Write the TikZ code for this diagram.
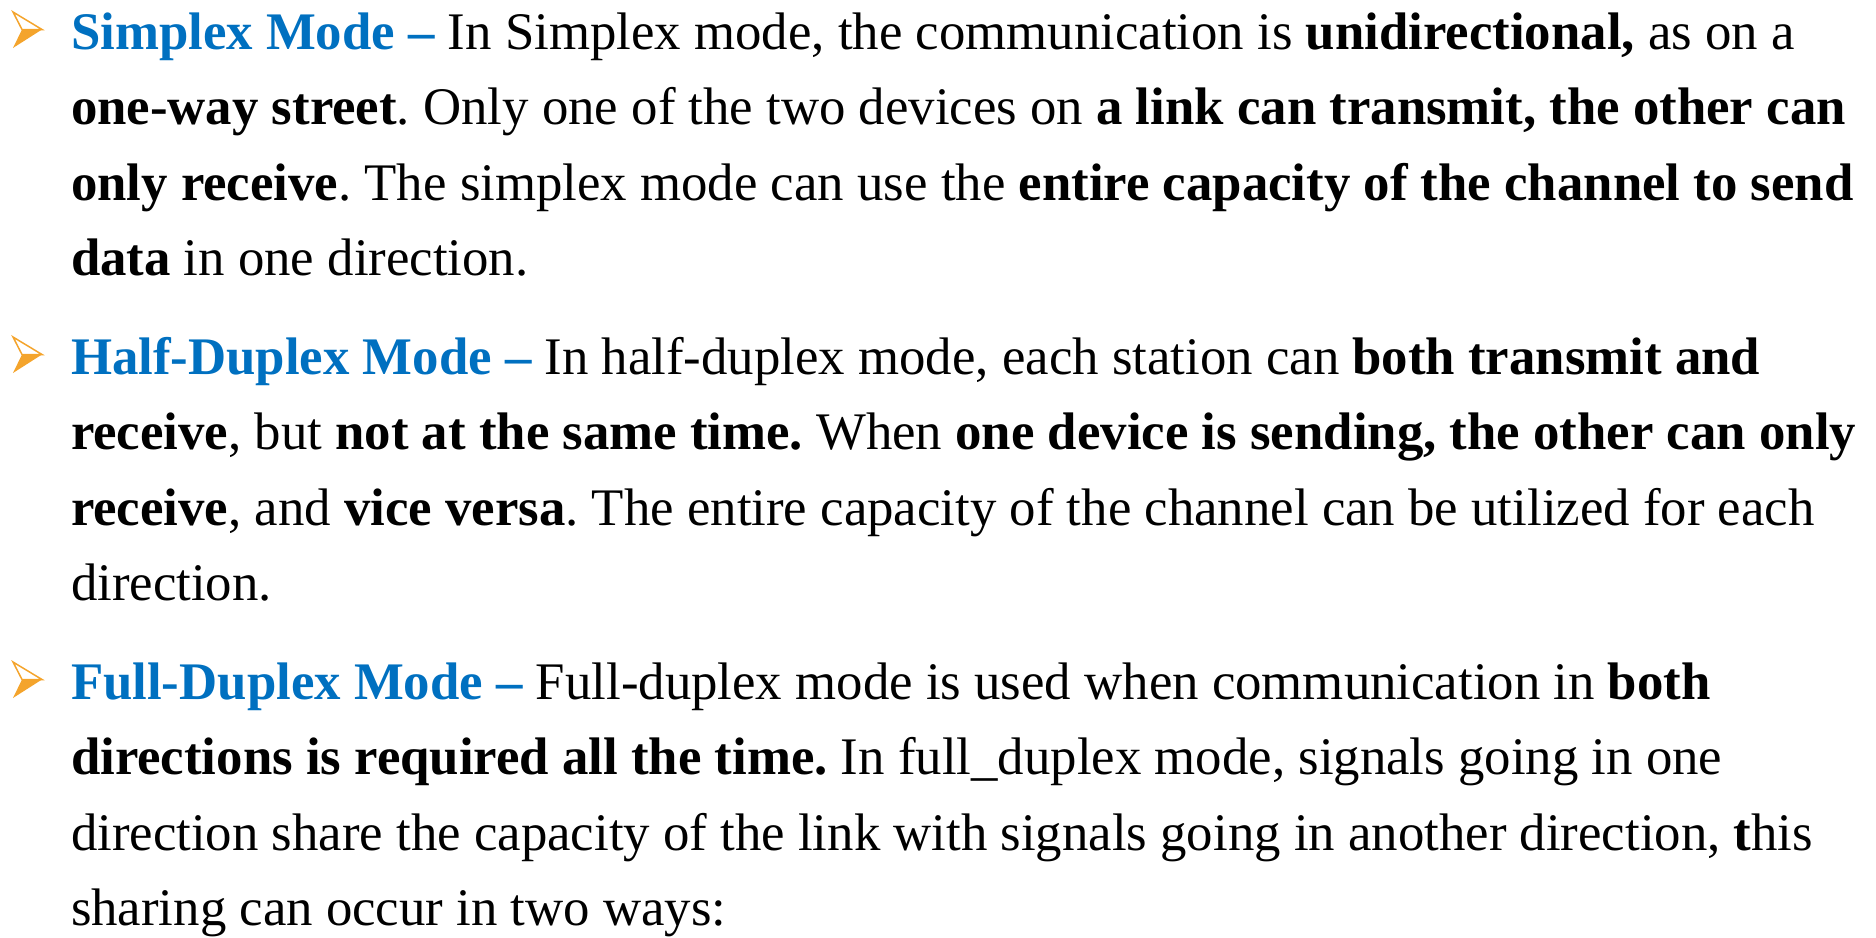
\documentclass[tikz,border=0pt]{standalone}
\usepackage{fontspec}
\setmainfont{Liberation Serif}
\usepackage{xcolor}
\usepackage{tikz}
\frenchspacing

\definecolor{modeblue}{HTML}{0070C0}
\definecolor{bulorange}{HTML}{F4A42C}

\tikzset{
  line/.style={anchor=base west, inner sep=0pt, outer sep=0pt},
  modetitle/.style={font=\bfseries\color{modeblue}}
}

\begin{document}
\begin{tikzpicture}[x=1pt, y=-1pt, font=\fontsize{52.8}{60}\selectfont]

%---------------- 尺寸參數 ----------------%
\def\textX{71}      % 文字左緣
\def\lineSep{75.6}  % 行距
\def\paraA{49}      % 第一段基線
\def\paraB{374}     % 第二段基線
\def\paraC{699}     % 第三段基線

%---------------- 外框 ----------------%
\useasboundingbox (0,0) rectangle (1876,937);

%---------------- Bullets ----------------%
\foreach \b in {\paraA,\paraB,\paraC} {
% 下半實心
\fill[bulorange] (13,\b-1) -- (42,\b-19.5) -- (22,\b-19.5) -- cycle;
% 上半空心
\draw[bulorange, line width=1.5pt, line join=miter] (13,\b-37) -- (42,\b-19.5) -- (22,\b-19.5) -- cycle;
}

%---------------- Simplex ----------------%
\node[line] (s1) at (\textX,\paraA) {{\bfseries\color{modeblue}Simplex Mode --} In Simplex mode, the communication is \textbf{unidirectional,} as on a};
\node[line] (s2) at (\textX,\paraA+\lineSep) {\textbf{one-way street}. Only one of the two devices on \textbf{a link can transmit, the other can}};
\node[line] (s3) at (\textX,\paraA+2*\lineSep) {\textbf{only receive}. The simplex mode can use the \textbf{entire capacity of the channel to send}};
\node[line] (s4) at (\textX,\paraA+3*\lineSep) {\textbf{data} in one direction.};

%---------------- Half-Duplex ----------------%
\node[line] (h1) at (\textX,\paraB) {{\bfseries\color{modeblue}Half-Duplex Mode --} In half-duplex mode, each station can \textbf{both transmit and}};
\node[line] (h2) at (\textX,\paraB+\lineSep) {\textbf{receive}, but \textbf{not at the same time.} When \textbf{one device is sending, the other can only}};
\node[line] (h3) at (\textX,\paraB+2*\lineSep) {\textbf{receive}, and \textbf{vice versa}. The entire capacity of the channel can be utilized for each};
\node[line] (h4) at (\textX,\paraB+3*\lineSep) {direction.};

%---------------- Full-Duplex ----------------%
\node[line] (f1) at (\textX,\paraC) {{\bfseries\color{modeblue}Full-Duplex Mode --} Full-duplex mode is used when communication in \textbf{both}};
\node[line] (f2) at (\textX,\paraC+\lineSep) {\textbf{directions is required all the time.} In full\_duplex mode, signals going in one};
\node[line] (f3) at (\textX,\paraC+2*\lineSep) {direction share the capacity of the link with signals going in another direction, \textbf{t}his};
\node[line] (f4) at (\textX,\paraC+3*\lineSep) {sharing can occur in two ways:};

\end{tikzpicture}
\end{document}
